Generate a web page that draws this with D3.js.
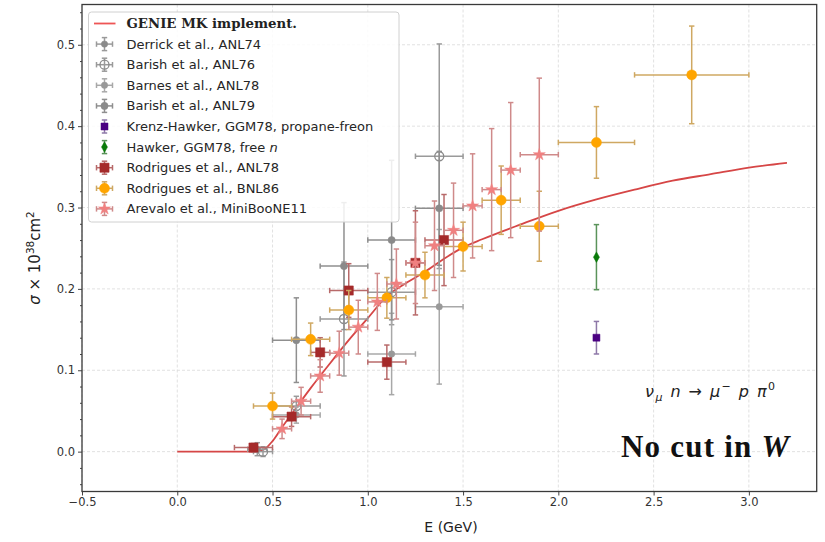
<!DOCTYPE html>
<html><head><meta charset="utf-8">
<script src="https://cdn.jsdelivr.net/npm/d3@7"></script>
<style>body{margin:0;background:#fff}svg{display:block}</style>
</head><body>
<svg id="c" width="825" height="542"></svg>
<script>
// ---- data ----
const xTicks = [-0.5, 0.0, 0.5, 1.0, 1.5, 2.0, 2.5, 3.0];
const yTicks = [0.0, 0.1, 0.2, 0.3, 0.4, 0.5];

const curveE     = [0, 0.1, 0.2, 0.3, 0.4, 0.45, 0.5, 0.55, 0.6, 0.7, 0.8, 0.9, 1.0, 1.1, 1.2, 1.3, 1.4, 1.5, 1.6, 1.8, 2.0, 2.2, 2.4, 2.6, 2.8, 3.0, 3.2];
const curveSigma = [0, 0, 0, 0, 0.0, 0.002, 0.013, 0.030, 0.046, 0.078, 0.108, 0.137, 0.164, 0.191, 0.207, 0.221, 0.237, 0.251, 0.261, 0.279, 0.296, 0.310, 0.322, 0.333, 0.341, 0.349, 0.355];

const derrickE = [0.42], derrickS = [0.003], derrickEerr = [0.05], derrickSerr = [0.008];
const barish76E = [0.45, 0.625, 0.875, 1.125, 1.375];
const barish76S = [0.0, 0.056, 0.163, 0.196, 0.363];
const barish76Eerr = [0.05, 0.125, 0.125, 0.125, 0.125];
const barish76Serr = [0.006, 0.012, 0.07, 0.04, 0.138];
const barnesE = [0.625, 1.125, 1.375];
const barnesS = [0.045, 0.12, 0.178];
const barnesEerr = [0.125, 0.125, 0.125];
const barnesSerr = [0.01, 0.05, 0.095];
const barish79E = [0.625, 0.875, 1.125, 1.375];
const barish79S = [0.137, 0.228, 0.26, 0.299];
const barish79Eerr = [0.125, 0.125, 0.125, 0.125];
const barish79Serr = [0.052, 0.078, 0.098, 0.07];
const krenzE = [2.2], krenzS = [0.14], krenzSerr = [0.02];
const hawkerE = [2.2], hawkerS = [0.239], hawkerSerr = [0.04];
const rodANLE = [0.4, 0.6, 0.75, 0.9, 1.1, 1.25, 1.4];
const rodANLS = [0.005, 0.043, 0.122, 0.198, 0.110, 0.232, 0.26];
const rodANLEerr = [0.1, 0.1, 0.05, 0.1, 0.1, 0.05, 0.1];
const rodANLSerr = [0.005, 0.012, 0.018, 0.033, 0.021, 0.064, 0.056];
const rodBNLE = [0.5, 0.7, 0.9, 1.1, 1.3, 1.5, 1.7, 1.9, 2.2, 2.7];
const rodBNLS = [0.056, 0.138, 0.174, 0.189, 0.217, 0.252, 0.309, 0.277, 0.380, 0.463];
const rodBNLEerr = [0.1, 0.1, 0.1, 0.1, 0.1, 0.1, 0.1, 0.1, 0.2, 0.3];
const rodBNLSerr = [0.016, 0.02, 0.024, 0.025, 0.028, 0.03, 0.042, 0.043, 0.044, 0.06];
const mbE = [0.55, 0.65, 0.75, 0.85, 0.95, 1.05, 1.15, 1.25, 1.35, 1.45, 1.55, 1.65, 1.75, 1.9];
const mbS = [0.028, 0.062, 0.093, 0.121, 0.153, 0.184, 0.206, 0.232, 0.253, 0.272, 0.302, 0.322, 0.346, 0.365];
const mbEerr = [0.05, 0.05, 0.05, 0.05, 0.05, 0.05, 0.05, 0.05, 0.05, 0.05, 0.05, 0.05, 0.05, 0.1];
const mbSerr = [0.012, 0.017, 0.02, 0.027, 0.033, 0.035, 0.043, 0.05, 0.055, 0.058, 0.064, 0.075, 0.083, 0.094];

const series = [
  {name:"Derrick et al., ANL74", E:derrickE, S:derrickS, Ee:derrickEerr, Se:derrickSerr, sym:"circle", r:3.2, fill:"#8a8a8a", stroke:"#8a8a8a", bar:"#9a9a9a"},
  {name:"Barish et al., ANL76", E:barish76E, S:barish76S, Ee:barish76Eerr, Se:barish76Serr, sym:"circle", r:4.5, fill:"none", stroke:"#8a8a8a", bar:"#9a9a9a"},
  {name:"Barnes et al., ANL78", E:barnesE, S:barnesS, Ee:barnesEerr, Se:barnesSerr, sym:"circle", r:3.2, fill:"#999", stroke:"#999", bar:"#a8a8a8"},
  {name:"Barish et al., ANL79", E:barish79E, S:barish79S, Ee:barish79Eerr, Se:barish79Serr, sym:"circle", r:3.6, fill:"#8a8a8a", stroke:"#8a8a8a", bar:"#8f8f8f"},
  {name:"Krenz-Hawker, GGM78, propane-freon", E:krenzE, S:krenzS, Ee:null, Se:krenzSerr, sym:"square", r:3.5, fill:"#4b0082", stroke:"#4b0082", bar:"#8e78a8"},
  {name:"Hawker, GGM78, free n", E:hawkerE, S:hawkerS, Ee:null, Se:hawkerSerr, sym:"diamond", r:3.8, fill:"#0a7a0a", stroke:"#0a7a0a", bar:"#5a935a"},
  {name:"Rodrigues et al., ANL78", E:rodANLE, S:rodANLS, Ee:rodANLEerr, Se:rodANLSerr, sym:"square", r:4.6, fill:"#a52a2a", stroke:"#a52a2a", bar:"#b86a6a"},
  {name:"Rodrigues et al., BNL86", E:rodBNLE, S:rodBNLS, Ee:rodBNLEerr, Se:rodBNLSerr, sym:"circle", r:5, fill:"#ffa500", stroke:"#ffa500", bar:"#cfa862"},
  {name:"Arevalo et al., MiniBooNE11", E:mbE, S:mbS, Ee:mbEerr, Se:mbSerr, sym:"star", r:3.6, fill:"#f08080", stroke:"#f08080", bar:"#cf8a8a"}
];

// ---- layout ----
const svg = d3.select("#c");
const L = 82, R = 816.7, T = 4.5, B = 491.5;
const x = d3.scaleLinear().domain([-0.5, 3.356]).range([L, R]);
const y = d3.scaleLinear().domain([-0.049, 0.5495]).range([B, T]);

// grid
const grid = svg.append("g");
grid.selectAll("line.gx").data(xTicks).join("line")
  .attr("x1", d => x(d)).attr("x2", d => x(d)).attr("y1", T).attr("y2", B)
  .attr("stroke", "#d9d9d9").attr("stroke-width", 0.8).attr("stroke-dasharray", "3,2");
grid.selectAll("line.gy").data(yTicks).join("line")
  .attr("y1", d => y(d)).attr("y2", d => y(d)).attr("x1", L).attr("x2", R)
  .attr("stroke", "#d9d9d9").attr("stroke-width", 0.8).attr("stroke-dasharray", "3,2");

// axes
const fmt = d3.format(".1f");
svg.append("g").attr("transform", `translate(0,${B})`)
  .call(d3.axisBottom(x).tickValues(xTicks).tickFormat(fmt).tickSize(4).tickSizeOuter(0).tickPadding(2.5));
svg.append("g").attr("transform", `translate(${L},0)`)
  .call(d3.axisLeft(y).tickValues(yTicks).tickFormat(fmt).tickSize(4).tickSizeOuter(0).tickPadding(3));
const minor = d3.range(-0.04, 0.545, 0.02).filter(v => Math.abs(Math.round(v*10) - v*10) > 1e-6);
svg.append("g").attr("transform", `translate(${L},0)`)
  .call(d3.axisLeft(y).tickValues(minor).tickFormat("").tickSize(2).tickSizeOuter(0));
svg.selectAll(".domain").remove();
svg.selectAll(".tick line").attr("stroke", "#444");
svg.selectAll(".tick text").attr("font-family", "DejaVu Sans").attr("font-size", 11.5).attr("fill", "#333");

// curve
svg.append("path")
  .datum(curveE.map((e, i) => [e, curveSigma[i]]))
  .attr("d", d3.line().curve(d3.curveMonotoneX).x(d => x(d[0])).y(d => y(d[1])))
  .attr("fill", "none").attr("stroke", "#d64646").attr("stroke-width", 1.8);

// error bars and markers
const symMap = {circle: d3.symbolCircle, square: d3.symbolSquare, diamond: d3.symbolDiamond, star: d3.symbolStar};
const symSize = (s) => s.sym === "circle" ? Math.PI*s.r*s.r : s.sym === "square" ? (2*s.r)*(2*s.r) : s.sym === "star" ? 3.5*s.r*s.r : 2.2*s.r*s.r;
const cap = 2.7;
function drawBars(g, s, cx, cy, ex, ey) {
  const a = g.append("g").attr("stroke", s.bar).attr("stroke-width", 1.5).attr("fill", "none");
  if (ex != null) {
    a.append("line").attr("x1", cx - ex).attr("x2", cx + ex).attr("y1", cy).attr("y2", cy);
    [cx - ex, cx + ex].forEach(v => a.append("line").attr("x1", v).attr("x2", v).attr("y1", cy - cap).attr("y2", cy + cap));
  }
  a.append("line").attr("x1", cx).attr("x2", cx).attr("y1", cy - ey).attr("y2", cy + ey);
  [cy - ey, cy + ey].forEach(v => a.append("line").attr("x1", cx - cap).attr("x2", cx + cap).attr("y1", v).attr("y2", v));
}
function drawMarker(g, s, cx, cy) {
  g.append("path").attr("d", d3.symbol().type(symMap[s.sym]).size(symSize(s))())
    .attr("transform", `translate(${cx},${cy})`)
    .attr("fill", s.fill === "none" ? "none" : s.fill)
    .attr("stroke", s.stroke).attr("stroke-width", s.fill === "none" ? 1.3 : 0.5);
}
const pts = svg.append("g");
series.forEach(s => {
  const g = pts.append("g");
  s.E.forEach((e, i) => {
    const cx = x(e), cy = y(s.S[i]);
    const ex = s.Ee ? x(e + s.Ee[i]) - cx : null;
    const ey = cy - y(s.S[i] + s.Se[i]);
    drawBars(g, s, cx, cy, ex, ey);
  });
  s.E.forEach((e, i) => drawMarker(g, s, x(e), y(s.S[i])));
});

// frame
svg.append("rect").attr("x", L).attr("y", T).attr("width", R - L).attr("height", B - T)
  .attr("fill", "none").attr("stroke", "#3a3a3a").attr("stroke-width", 1.3);

// legend
const lg = svg.append("g");
lg.append("rect").attr("x", 88.5).attr("y", 12).attr("width", 310.5).attr("height", 210).attr("rx", 3)
  .attr("fill", "rgba(255,255,255,0.85)").attr("stroke", "#d0d0d0").attr("stroke-width", 1);
const rowY = i => 23.5 + i * 20.6;
const hx = 104.5, tx = 126.5;
lg.append("line").attr("x1", 94).attr("x2", 115.5).attr("y1", rowY(0)).attr("y2", rowY(0))
  .attr("stroke", "#ee5555").attr("stroke-width", 1.8);
lg.append("text").attr("x", tx).attr("y", rowY(0)).attr("dy", "0.35em")
  .attr("font-family", "DejaVu Serif").attr("font-weight", "bold").attr("font-size", 13.3).attr("fill", "#222")
  .text("GENIE MK implement.");
series.forEach((s, i) => {
  const cy = rowY(i + 1);
  const g = lg.append("g");
  drawBars(g, s, hx, cy, s.Ee ? 8 : null, 6.5);
  drawMarker(g, s, hx, cy);
  const t = lg.append("text").attr("x", tx).attr("y", cy).attr("dy", "0.35em")
    .attr("font-family", "DejaVu Sans").attr("font-size", 13).attr("fill", "#262626");
  if (s.name.endsWith("free n")) {
    t.append("tspan").text("Hawker, GGM78, free ");
    t.append("tspan").attr("font-style", "italic").text("n");
  } else t.text(s.name);
});

// axis labels
svg.append("text").attr("x", 451).attr("y", 527).attr("dy", "0.35em").attr("text-anchor", "middle")
  .attr("font-family", "DejaVu Sans").attr("font-size", 14).attr("fill", "#222").text("E (GeV)");
const yl = svg.append("text").attr("transform", "translate(40,258) rotate(-90)").attr("text-anchor", "middle")
  .attr("font-family", "DejaVu Sans").attr("font-size", 15).attr("fill", "#222");
yl.append("tspan").attr("font-style", "italic").text("σ");
yl.append("tspan").text(" × 10");
yl.append("tspan").attr("font-size", 10.5).attr("dy", -6).text("38");
yl.append("tspan").attr("dy", 6).text("cm");
yl.append("tspan").attr("font-size", 10.5).attr("dy", -6).text("2");

// annotations
const ann = svg.append("text").attr("x", 645).attr("y", 397)
  .attr("font-family", "DejaVu Sans").attr("font-size", 16).attr("fill", "#222")
  .attr("textLength", 130).attr("lengthAdjust", "spacing");
ann.append("tspan").attr("font-style", "italic").text("ν");
ann.append("tspan").attr("font-style", "italic").attr("font-size", 11).attr("dy", 3.5).text("μ");
ann.append("tspan").attr("font-style", "italic").attr("dy", -3.5).text(" n ");
ann.append("tspan").text("→ ");
ann.append("tspan").attr("font-style", "italic").text("μ");
ann.append("tspan").attr("font-size", 11).attr("dy", -7).text("−");
ann.append("tspan").attr("font-style", "italic").attr("dy", 7).text(" p ");
ann.append("tspan").attr("font-style", "italic").text("π");
ann.append("tspan").attr("font-size", 11).attr("dy", -7).text("0");

const nc = svg.append("text").attr("x", 621).attr("y", 457)
  .attr("font-family", "Liberation Serif").attr("font-weight", "bold").attr("font-size", 31).attr("fill", "#111")
  .attr("textLength", 168).attr("lengthAdjust", "spacing");
nc.append("tspan").text("No cut in ");
nc.append("tspan").attr("font-style", "italic").text("W");
</script>
</body></html>
